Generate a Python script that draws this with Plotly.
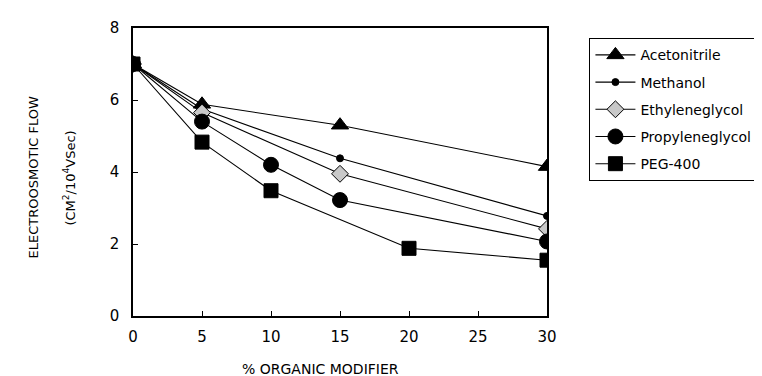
import plotly.graph_objects as go

# Data
acn_x = [0, 5, 15, 30]
acn_y = [7.0, 5.88, 5.3, 4.15]
meoh_x = [0, 5, 15, 30]
meoh_y = [7.0, 5.75, 4.38, 2.78]
eg_x = [0, 5, 15, 30]
eg_y = [7.0, 5.65, 3.95, 2.42]
pg_x = [0, 5, 10, 15, 30]
pg_y = [7.0, 5.4, 4.2, 3.22, 2.07]
peg_x = [0, 5, 10, 20, 30]
peg_y = [7.0, 4.83, 3.48, 1.88, 1.55]

names = ["Acetonitrile", "Methanol", "Ethyleneglycol", "Propyleneglycol", "PEG-400"]
xs = [acn_x, meoh_x, eg_x, pg_x, peg_x]
ys = [acn_y, meoh_y, eg_y, pg_y, peg_y]
symbols = ["triangle-up", "circle", "diamond", "circle", "square"]
sizes = [15, 7, 13, 15, 14]
fills = ["black", "black", "#c8c8c8", "black", "black"]

x_ticks = [0, 5, 10, 15, 20, 25, 30]
y_ticks = [0, 2, 4, 6, 8]

FONT = "DejaVu Sans"

fig = go.Figure()
for i in range(5):
    fig.add_trace(go.Scatter(
        x=xs[i], y=ys[i], name=names[i], mode="lines+markers",
        legendgroup=names[i],
        line=dict(color="black", width=1.1),
        marker=dict(symbol=symbols[i], size=sizes[i], color=fills[i],
                    line=dict(color="black", width=1)),
    ))

fig.update_layout(
    width=762, height=376,
    margin=dict(l=125, r=223, t=20, b=68),
    paper_bgcolor="white", plot_bgcolor="white",
    font=dict(family=FONT, color="black"),
    showlegend=True,
    legend=dict(
        x=1.102, y=0.965, xanchor="left", yanchor="top",
        bordercolor="black", borderwidth=1.2, bgcolor="white",
        font=dict(family=FONT, size=14, color="black"),
        tracegroupgap=6, itemwidth=40,
    ),
    xaxis=dict(
        range=[0, 30], tickvals=x_ticks, ticks="inside", ticklen=5,
        tickcolor="black", tickwidth=1,
        showline=True, linecolor="black", linewidth=1.5, mirror=True,
        showgrid=False, zeroline=False,
        tickfont=dict(family=FONT, size=15, color="black"),
        ticklabelstandoff=6,
    ),
    yaxis=dict(
        range=[0, 8], tickvals=y_ticks, ticks="inside", ticklen=5,
        tickcolor="black", tickwidth=1,
        showline=True, linecolor="black", linewidth=1.5, mirror=True,
        showgrid=False, zeroline=False,
        tickfont=dict(family=FONT, size=15, color="black"),
        ticklabelstandoff=9,
    ),
    annotations=[
        dict(text="% ORGANIC MODIFIER", xref="paper", yref="paper",
             x=0.453, y=-0.183, xanchor="center", yanchor="middle",
             showarrow=False, font=dict(family=FONT, size=14)),
        dict(text="ELECTROOSMOTIC FLOW", xref="paper", yref="paper",
             x=-0.24, y=0.48, xanchor="center", yanchor="middle",
             textangle=-90, showarrow=False, font=dict(family=FONT, size=13)),
        dict(text="(CM<sup>2</sup>/10<sup>4</sup>VSec)", xref="paper", yref="paper",
             x=-0.155, y=0.48, xanchor="center", yanchor="middle",
             textangle=-90, showarrow=False, font=dict(family=FONT, size=13)),
    ],
)

fig.write_html("out.html")
